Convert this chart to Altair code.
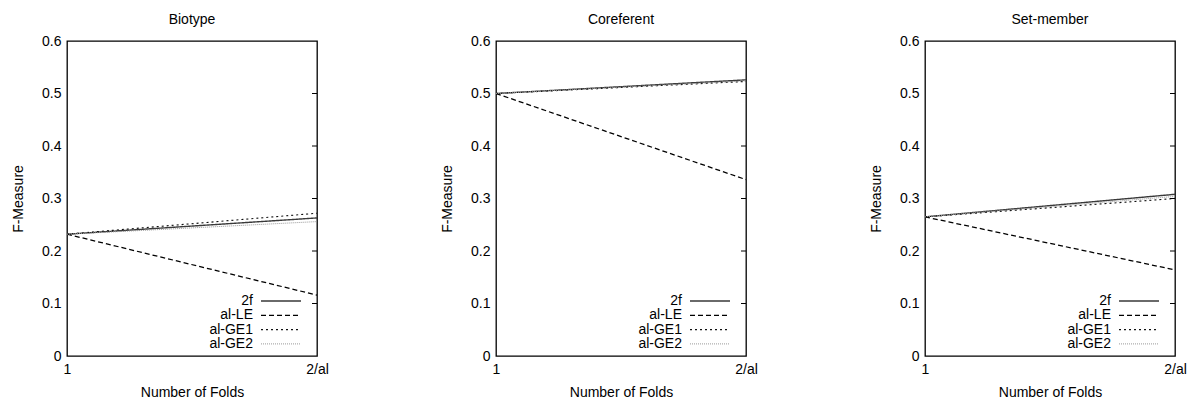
import altair as alt
import pandas as pd

panels = ["Biotype", "Coreferent", "Set-member"]
series = ["2f", "al-LE", "al-GE1", "al-GE2"]
x_points = [1, 2]
x_labels = ["1", "2/al"]
start_vals = [0.232, 0.500, 0.265]
end_2f = [0.263, 0.526, 0.308]
end_le = [0.116, 0.336, 0.164]
end_ge1 = [0.272, 0.523, 0.300]
end_ge2 = [0.256, 0.524, 0.304]
y_ticks = [0, 0.1, 0.2, 0.3, 0.4, 0.5, 0.6]
inner_ticks = [0.1, 0.2, 0.3, 0.4, 0.5]

colors = ["#3a3a3a", "#000000", "#111111", "#9a9a9a"]
dashes = [[1, 0], [5, 3], [2, 3], [1, 1]]
widths = [1.4, 1.0, 1.0, 1.0]

FONT = "Liberation Sans"
W, H = 250, 315

color_scale = alt.Scale(domain=series, range=colors)
dash_scale = alt.Scale(domain=series, range=dashes)
width_scale = alt.Scale(domain=series, range=widths)
y_scale = alt.Scale(domain=[0, 0.6], nice=False)
y_axis = alt.Axis(values=y_ticks, format=".1~f", title="F-Measure",
                  ticks=False, grid=False, domain=False,
                  labelPadding=6, titlePadding=16)


def panel(idx):
    ends = [end_2f[idx], end_le[idx], end_ge1[idx], end_ge2[idx]]
    rows = []
    for s, e in zip(series, ends):
        rows.append({"series": s, "x": x_points[0], "value": start_vals[idx]})
        rows.append({"series": s, "x": x_points[1], "value": e})
    df = pd.DataFrame(rows)

    label_expr = "datum.value == 2 ? '%s' : '%s'" % (x_labels[1], x_labels[0])
    lines = alt.Chart(df).mark_line(clip=True).encode(
        x=alt.X("x:Q", scale=alt.Scale(domain=[1, 2], nice=False),
                axis=alt.Axis(values=x_points, labelExpr=label_expr, title="Number of Folds",
                              ticks=False, grid=False, domain=False, labelFlush=False,
                              labelPadding=6, titlePadding=9)),
        y=alt.Y("value:Q", scale=y_scale, axis=y_axis),
        color=alt.Color("series:N", scale=color_scale, legend=None),
        strokeDash=alt.StrokeDash("series:N", scale=dash_scale, legend=None),
        strokeWidth=alt.StrokeWidth("series:N", scale=width_scale, legend=None),
        detail="series:N",
    )

    tick_df = pd.DataFrame({"value": inner_ticks})
    ticks = alt.Chart(tick_df).mark_rule(color="black", strokeWidth=1).encode(
        y=alt.Y("value:Q", scale=y_scale, axis=y_axis),
        x=alt.value(W - 5),
        x2=alt.value(W),
    )

    layers = [lines, ticks]
    for i, s in enumerate(series):
        ldf = pd.DataFrame({"series": [s]})
        yy = 260 + i * 14.3
        txt = alt.Chart(ldf).mark_text(align="right", baseline="middle", font=FONT,
                                       fontSize=14, color="black").encode(
            x=alt.value(186), y=alt.value(yy), text="series:N")
        sample = alt.Chart(ldf).mark_rule().encode(
            x=alt.value(194), x2=alt.value(234), y=alt.value(yy),
            color=alt.Color("series:N", scale=color_scale, legend=None),
            strokeDash=alt.StrokeDash("series:N", scale=dash_scale, legend=None),
            strokeWidth=alt.StrokeWidth("series:N", scale=width_scale, legend=None),
        )
        layers += [sample, txt]

    return alt.layer(*layers).properties(
        width=W, height=H,
        title=alt.TitleParams(panels[idx], fontSize=14, fontWeight="normal", font=FONT,
                              color="black", offset=7),
    )


chart = alt.hconcat(*[panel(i) for i in range(3)], spacing=110).properties(
    padding={"left": 10, "top": 12, "right": 0, "bottom": 0},
    background="white",
).configure_view(
    stroke="black", strokeWidth=1.3
).configure_axis(
    labelFont=FONT, titleFont=FONT, labelFontSize=14, titleFontSize=14,
    labelColor="black", titleColor="black", titleFontWeight="normal",
).configure_title(font=FONT)

chart.save("out.html", embed_options={"renderer": "svg", "actions": False})
